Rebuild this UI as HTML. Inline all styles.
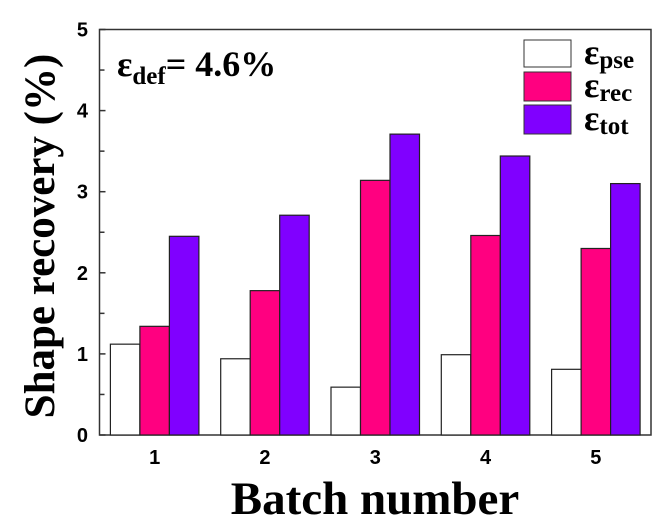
<!DOCTYPE html>
<html><head><meta charset="utf-8"><style>
body{margin:0;background:#fff;width:668px;height:524px;overflow:hidden}
svg text{font-family:"Liberation Serif",serif;font-weight:bold}
.tk{font-family:"Liberation Sans",sans-serif;font-size:20px}
</style></head><body>
<svg id="c" width="668" height="524">
<rect x="99.5" y="29.5" width="551.5" height="405.5" fill="none" stroke="#333" stroke-width="1.5"/>
<g id="bars"></g><g id="axes"></g>
<text x="117" y="76" font-size="36">ε<tspan font-size="25" dy="8">def</tspan><tspan dy="-8">= 4.6%</tspan></text>
<g>
<rect x="524" y="40" width="47" height="27" fill="#fff" stroke="#333"/>
<rect x="524" y="72" width="47" height="29" fill="#ff0080" stroke="#333"/>
<rect x="524" y="105" width="47" height="29" fill="#8000ff" stroke="#333"/>
<text x="584" y="64" font-size="36">ε<tspan font-size="25" dy="4">pse</tspan></text>
<text x="584" y="97" font-size="36">ε<tspan font-size="25" dy="4">rec</tspan></text>
<text x="584" y="130" font-size="36">ε<tspan font-size="25" dy="4">tot</tspan></text>
</g>
<text transform="translate(54,236) rotate(-90)" text-anchor="middle" font-size="43">Shape recovery  (%)</text>
<text x="375" y="514" text-anchor="middle" font-size="47">Batch number</text>
</svg>
<script>
const categories=["1","2","3","4","5"];
const pse=[1.12,0.94,0.59,0.99,0.81];
const rec=[1.34,1.78,3.14,2.46,2.30];
const tot=[2.45,2.71,3.71,3.44,3.10];
const yTicks=[0,1,2,3,4,5];
const NS="http://www.w3.org/2000/svg";
const x0=99.5,x1=651,y0=435,y1=29.5;
const sx=i=>x0+(i+0.5)*(x1-x0)/categories.length;
const sy=v=>y0-v*(y0-y1)/5;
const bw=29.5;
const bars=document.getElementById('bars'),axes=document.getElementById('axes');
function mk(t,a,p){const e=document.createElementNS(NS,t);for(const k in a)e.setAttribute(k,a[k]);p.appendChild(e);return e;}
const series=[[pse,"#fff","pse"],[rec,"#ff0080","rec"],[tot,"#8000ff","tot"]];
categories.forEach((c,i)=>{
 series.forEach((s,j)=>{
  const v=s[0][i];
  const r=mk('rect',{x:sx(i)+(j-1.5)*bw,y:sy(v),width:bw,height:y0-sy(v),fill:s[1],stroke:"#222","stroke-width":1.2},bars);
  
  
 });
 const t=mk('text',{x:sx(i),y:464,"text-anchor":"middle",class:"tk"},axes);
 t.textContent=c;
 
 
});
yTicks.forEach(v=>{
 const t=mk('text',{x:88,y:sy(v)+7,"text-anchor":"end",class:"tk"},axes);
 t.textContent=v;
 
 
 mk('line',{x1:x0,x2:x0+6,y1:sy(v),y2:sy(v),stroke:"#333","stroke-width":1.5},axes);
 if(v<5)mk('line',{x1:x0,x2:x0+5,y1:sy(v+0.5),y2:sy(v+0.5),stroke:"#333","stroke-width":1.5},axes);
});
</script>
</body></html>
